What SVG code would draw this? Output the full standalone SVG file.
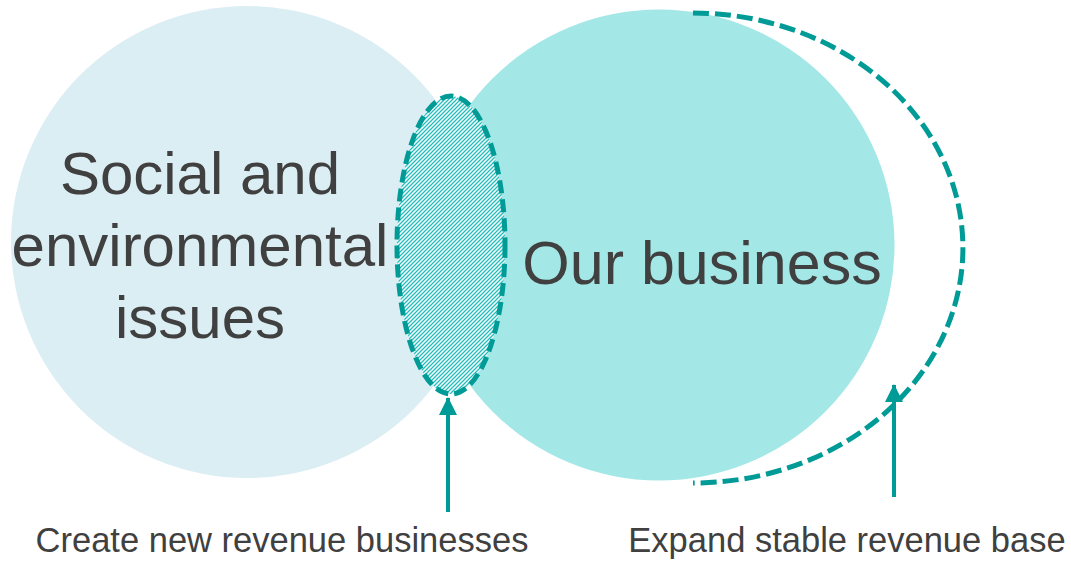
<svg xmlns="http://www.w3.org/2000/svg" width="1071" height="561" viewBox="0 0 1071 561">
  <style>
    .big { font-family: "Liberation Sans", Arial, sans-serif; font-size: 60px; fill: #404040; text-anchor: middle; }
    .cap { font-family: "Liberation Sans", Arial, sans-serif; font-size: 34.5px; fill: #404040; text-anchor: middle; }
    .dash { stroke: #009b96; stroke-width: 5; }
    .arrow { fill: none; stroke: #009b96; stroke-width: 4; marker-end: url(#head); }
  </style>
  <defs>
    <!-- diagonal stripe fill for the overlap -->
    <pattern id="hatch" patternUnits="userSpaceOnUse" width="4" height="4">
      <rect width="4" height="4" fill="#ffffff"/>
      <path d="M-1,1 L1,-1 M0,4 L4,0 M3,5 L5,3" stroke="#22bcbc" stroke-width="1.3"/>
    </pattern>
    <marker id="head" markerUnits="userSpaceOnUse" markerWidth="20" markerHeight="20" refX="17" refY="9" orient="auto">
      <path d="M0,0 L18,9 L0,18 Z" fill="#009b96"/>
    </marker>
  </defs>

  <g id="social-issues">
    <circle cx="247" cy="242" r="236" fill="#dbeef3"/>
    <text class="big" x="200" y="194">Social and</text>
    <text class="big" x="200" y="266">environmental</text>
    <text class="big" x="200" y="338">issues</text>
  </g>

  <g id="our-business">
    <circle cx="659" cy="245" r="235.5" fill="#a3e7e7"/>
    <text class="big" x="702" y="284" style="font-size:61px">Our business</text>
  </g>

  <g id="overlap">
    <ellipse cx="451" cy="245" rx="54" ry="149" fill="url(#hatch)" class="dash" stroke-dasharray="13 6"/>
  </g>

  <g id="expansion">
    <path class="dash" fill="none" d="M693,13 A270,235 0 0 1 693,483" stroke-dasharray="16 6"/>
  </g>

  <g id="connectors">
    <line class="arrow" x1="448" y1="512" x2="448" y2="398"/>
    <line class="arrow" x1="894" y1="497" x2="894" y2="385"/>
  </g>

  <g id="labels">
    <text class="cap" x="282" y="552">Create new revenue businesses</text>
    <text class="cap" x="847" y="552">Expand stable revenue base</text>
  </g>
</svg>
